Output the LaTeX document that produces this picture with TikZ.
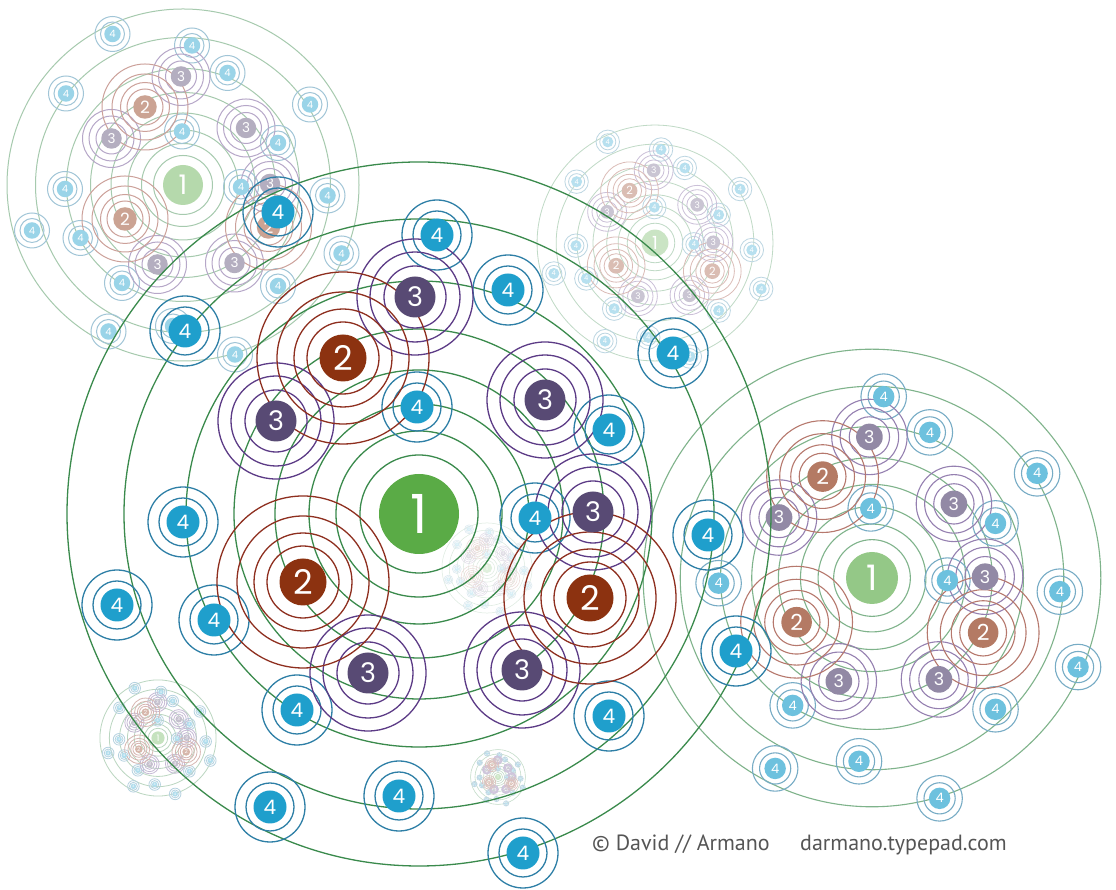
\documentclass[tikz,border=0pt]{standalone}
\usepackage{fontspec}
\newfontfamily\digitfont{Poppins}
\newfontfamily\capfont{PT Sans}
\definecolor{orbitG}{HTML}{3A8A4C}
\definecolor{ringR}{HTML}{8E2F1F}
\definecolor{ringP}{HTML}{5C3B86}
\definecolor{ringB}{HTML}{2E7FA6}
\definecolor{fillG}{HTML}{5AAB46}
\definecolor{fillR}{HTML}{8C3210}
\definecolor{fillP}{HTML}{584A74}
\definecolor{fillB}{HTML}{1F9FCC}
\definecolor{capgray}{HTML}{555555}

\def\posTwo{(-76,156),(-116,-68),(171,-84)}
\def\posThree{(-4,217),(-143,93),(126,114),(174,2),(-51,-159),(103,-156)}
\def\posFourAll{(18,279),(89,224),(-234,183),(-2,107),(190,84),(116,-4),(-236,-8),(-302,-91),(-205,-106),(-122,-196),(190,-202),(-149,-293),(-20,-282),(104,-339),(254,161),(289,-21),(317,-137),(-141,302)}
\def\posFourRight{(18,279),(89,224),(-2,107),(190,84),(116,-4),(-236,-8),(-122,-196),(190,-202),(-149,-293),(-20,-282),(104,-339),(254,161),(289,-21),(317,-137)}

\tikzset{
  dot/.style={circle, inner sep=0pt, draw=none, text=white, transform shape},
}

% #1 name, #2 centre, #3 scale, #4 strength, #5 line width, #6 list of 4s
\newcommand\drawcluster[6]{%
\begin{scope}[shift={#2}, scale=#3, line width=#5]
  \foreach \r in {59,83,110,144,185,233,295,352}
    \draw[orbitG!#4!white] (0,0) circle[radius=\r];
  \foreach \p in #6
    \draw[ringB!#4!white] \p circle[radius=24] \p circle[radius=35];
  \foreach \p in \posThree
    \draw[ringP!#4!white] \p circle[radius=31] \p circle[radius=45] \p circle[radius=58];
  \foreach \p in \posTwo
    \draw[ringR!#4!white] \p circle[radius=36] \p circle[radius=49] \p circle[radius=66] \p circle[radius=86];
  \foreach \p [count=\i] in #6
    \node[dot, fill=fillB!#4!white, minimum size=33, font=\digitfont\fontsize{20}{20}\selectfont] (#1-four-\i) at \p {4};
  \foreach \p [count=\i] in \posThree
    \node[dot, fill=fillP!#4!white, minimum size=41, font=\digitfont\fontsize{27}{27}\selectfont] (#1-three-\i) at \p {3};
  \foreach \p [count=\i] in \posTwo
    \node[dot, fill=fillR!#4!white, minimum size=47, font=\digitfont\fontsize{34}{34}\selectfont] (#1-two-\i) at \p {2};
  \node[dot, fill=fillG!#4!white, minimum size=80, font=\digitfont\fontsize{54}{54}\selectfont] (#1-one) at (0,0) {1};
\end{scope}}

\begin{document}
\begin{tikzpicture}[x=1pt, y=1pt]
\useasboundingbox (0,0) rectangle (1116,890);
\fill[white] (0,0) rectangle (1116,890);
\clip (0,0) rectangle (1116,890);

% faint background clusters
\drawcluster{tiny}{(498,113)}{0.078}{30}{0.6pt}{\posFourAll}
\drawcluster{bl}{(158,152)}{0.165}{35}{0.8pt}{\posFourAll}
\drawcluster{under}{(487,322)}{0.128}{18}{0.5pt}{\posFourAll}
\drawcluster{tm}{(655,647)}{0.335}{32}{0.8pt}{\posFourAll}
% medium clusters
\drawcluster{tl}{(183,705)}{0.5}{45}{1.0pt}{\posFourAll}
\drawcluster{rt}{(872,312)}{0.65}{65}{1.1pt}{\posFourRight}
% main cluster
\drawcluster{main}{(419,376)}{1}{100}{1.3pt}{\posFourAll}

% credits
\node[anchor=base west, inner sep=0pt, text=capgray, font=\capfont\fontsize{22}{22}\selectfont] (credit) at (592,39) {© David // Armano};
\node[anchor=base west, inner sep=0pt, text=capgray, font=\capfont\fontsize{22}{22}\selectfont] (site) at (800,39) {darmano.typepad.com};
\end{tikzpicture}
\end{document}
